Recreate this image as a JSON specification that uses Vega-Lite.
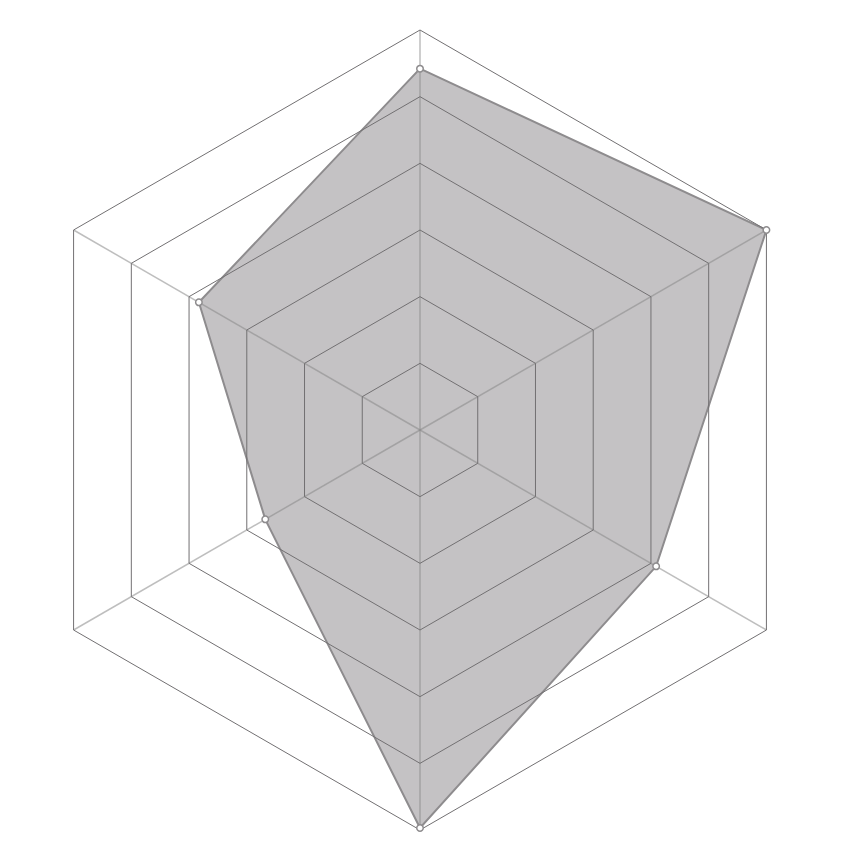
{
  "$schema": "https://vega.github.io/schema/vega-lite/v6.json",
  "width": 860,
  "height": 860,
  "autosize": {"type": "fit", "contains": "padding"},
  "padding": 0,
  "background": "white",
  "config": {"view": {"stroke": null}},
  "datasets": {
    "scores": [
      {"axis": 0, "value": 5.42},
      {"axis": 1, "value": 6.0},
      {"axis": 2, "value": 4.09},
      {"axis": 3, "value": 5.97},
      {"axis": 4, "value": 2.68},
      {"axis": 5, "value": 3.83},
      {"axis": 6, "value": 5.42}
    ],
    "rings": [
      {"level": 1, "axis": [0, 1, 2, 3, 4, 5, 6]},
      {"level": 2, "axis": [0, 1, 2, 3, 4, 5, 6]},
      {"level": 3, "axis": [0, 1, 2, 3, 4, 5, 6]},
      {"level": 4, "axis": [0, 1, 2, 3, 4, 5, 6]},
      {"level": 5, "axis": [0, 1, 2, 3, 4, 5, 6]},
      {"level": 6, "axis": [0, 1, 2, 3, 4, 5, 6]}
    ],
    "spokes": [
      {"axis": 0, "level": 6},
      {"axis": 1, "level": 6},
      {"axis": 2, "level": 6},
      {"axis": 3, "level": 6},
      {"axis": 4, "level": 6},
      {"axis": 5, "level": 6}
    ]
  },
  "layer": [
    {
      "data": {"name": "scores"},
      "transform": [
        {"calculate": "datum.value * cos(PI / 2 - datum.axis * PI / 3)", "as": "px"},
        {"calculate": "datum.value * sin(PI / 2 - datum.axis * PI / 3)", "as": "py"}
      ],
      "mark": {"type": "line", "fill": "#c4c2c4", "stroke": "#8e8c8e", "strokeWidth": 2, "strokeJoin": "miter"},
      "encoding": {
        "x": {"field": "px", "type": "quantitative", "scale": {"domain": [-6.3, 6.6], "nice": false, "zero": false}, "axis": null},
        "y": {"field": "py", "type": "quantitative", "scale": {"domain": [-6.45, 6.45], "nice": false, "zero": false}, "axis": null},
        "order": {"field": "axis", "type": "quantitative"}
      }
    },
    {
      "data": {"name": "spokes"},
      "transform": [
        {"calculate": "datum.level * cos(PI / 2 - datum.axis * PI / 3)", "as": "px"},
        {"calculate": "datum.level * sin(PI / 2 - datum.axis * PI / 3)", "as": "py"}
      ],
      "mark": {"type": "rule", "stroke": "#888888", "strokeOpacity": 0.55, "strokeWidth": 1.5},
      "encoding": {
        "x": {"field": "px", "type": "quantitative"},
        "y": {"field": "py", "type": "quantitative"},
        "x2": {"datum": 0},
        "y2": {"datum": 0}
      }
    },
    {
      "data": {"name": "rings"},
      "transform": [
        {"flatten": ["axis"]},
        {"calculate": "datum.level * cos(PI / 2 - datum.axis * PI / 3)", "as": "px"},
        {"calculate": "datum.level * sin(PI / 2 - datum.axis * PI / 3)", "as": "py"}
      ],
      "mark": {"type": "line", "stroke": "#727072", "strokeWidth": 1, "strokeJoin": "miter"},
      "encoding": {
        "x": {"field": "px", "type": "quantitative"},
        "y": {"field": "py", "type": "quantitative"},
        "detail": {"field": "level", "type": "nominal"},
        "order": {"field": "axis", "type": "quantitative"}
      }
    },
    {
      "data": {"name": "scores"},
      "transform": [
        {"filter": "datum.axis < 6"},
        {"calculate": "datum.value * cos(PI / 2 - datum.axis * PI / 3)", "as": "px"},
        {"calculate": "datum.value * sin(PI / 2 - datum.axis * PI / 3)", "as": "py"}
      ],
      "mark": {"type": "point", "filled": true, "fill": "white", "stroke": "#8e8c8e", "strokeWidth": 1.5, "size": 42, "opacity": 1},
      "encoding": {
        "x": {"field": "px", "type": "quantitative"},
        "y": {"field": "py", "type": "quantitative"}
      }
    }
  ]
}
